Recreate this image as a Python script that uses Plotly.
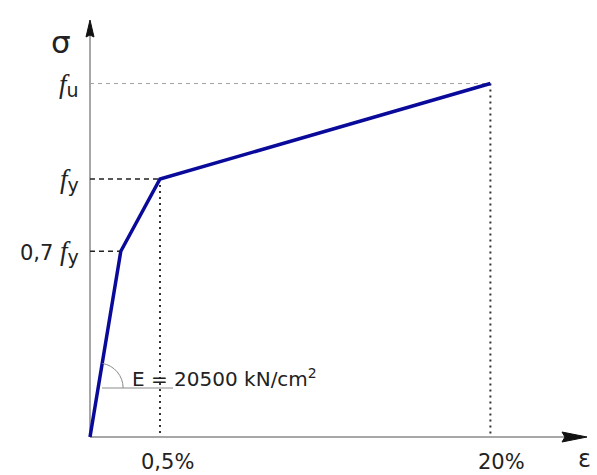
import plotly.graph_objects as go

# Schematic stress-strain diagram (positions in schematic units)
strain_labels = ["0,5%", "20%"]
strain_pos = [0.0, 0.22, 0.5, 2.86]      # schematic x positions of curve points
stress_pos = [0.0, 0.72, 1.0, 1.37]      # schematic y positions (0, 0.7fy, fy, fu)
F = '<i><span style="font-family:Liberation Serif;font-size:27px">f</span></i>'
def SUB(s):
    return '<sub><span style="font-size:19px">' + s + '</span></sub>'
stress_labels = ["0,7 " + F + SUB("y"), F + SUB("y"), F + SUB("u")]
modulus_text = "E = 20500 kN/cm<sup>2</sup>"

FONT = "DejaVu Sans"
BLUE = "#0a0a9a"
TXT = "#222222"

W, H = 597, 475
ox, oy = 90, 437           # origin pixel
sx, sy = 140.0, 258.0      # pixels per unit
x0 = -ox / sx
x1 = x0 + W / sx
y0 = -(H - oy) / sy
y1 = y0 + H / sy

x_end = (587 - ox) / sx
y_end = (oy - 20) / sy

fig = go.Figure()

# axes lines
fig.add_trace(go.Scatter(x=[0, x_end - 0.05], y=[0, 0], mode="lines",
                         line=dict(color="#8a8a8a", width=1.5), hoverinfo="skip"))
fig.add_trace(go.Scatter(x=[0, 0], y=[0, y_end - 0.03], mode="lines",
                         line=dict(color="#8a8a8a", width=1.5), hoverinfo="skip"))

# guide lines
fx_u, fy_u = strain_pos[3], stress_pos[3]
fig.add_trace(go.Scatter(x=[0, fx_u], y=[fy_u, fy_u], mode="lines",
                         line=dict(color="#a0a0a0", width=1, dash="4px,4px"), hoverinfo="skip"))
fig.add_trace(go.Scatter(x=[fx_u, fx_u], y=[fy_u, 0], mode="lines",
                         line=dict(color="#333333", width=2, dash="2px,4px"), hoverinfo="skip"))
fig.add_trace(go.Scatter(x=[0, strain_pos[2]], y=[stress_pos[2], stress_pos[2]], mode="lines",
                         line=dict(color="#222222", width=1.5, dash="5px,4px"), hoverinfo="skip"))
fig.add_trace(go.Scatter(x=[strain_pos[2], strain_pos[2]], y=[stress_pos[2], 0], mode="lines",
                         line=dict(color="#333333", width=2, dash="2px,4px"), hoverinfo="skip"))
fig.add_trace(go.Scatter(x=[0, strain_pos[1]], y=[stress_pos[1], stress_pos[1]], mode="lines",
                         line=dict(color="#222222", width=1.5, dash="5px,4px"), hoverinfo="skip"))

# curve
fig.add_trace(go.Scatter(x=strain_pos, y=stress_pos, mode="lines",
                         line=dict(color=BLUE, width=3.5), hoverinfo="skip"))

# E annotation: horizontal reference line and arc
e_y = (oy - 388) / sy
e_x = strain_pos[1] * (e_y / stress_pos[1])
fig.add_trace(go.Scatter(x=[(102 - ox) / sx, (173 - ox) / sx], y=[e_y, e_y], mode="lines",
                         line=dict(color="#8a8a8a", width=1), hoverinfo="skip"))

shapes = [
    dict(type="path", xref="x", yref="y", xsizemode="pixel", ysizemode="pixel",
         xanchor=e_x, yanchor=e_y,
         path="M 25 0 C 25 12.1 16.3 22.5 4.3 24.6",
         line=dict(color="#8a8a8a", width=1)),
    # arrowheads
    dict(type="path", xref="x", yref="y", xsizemode="pixel", ysizemode="pixel",
         xanchor=x_end, yanchor=0, path="M 0 0 L -25 5 L -22 0 L -25 -5 Z",
         fillcolor="#111111", line=dict(color="#111111", width=1)),
    dict(type="path", xref="x", yref="y", xsizemode="pixel", ysizemode="pixel",
         xanchor=0, yanchor=y_end, path="M 0 0 L -4 -17 L 0 -15 L 4 -17 Z",
         fillcolor="#111111", line=dict(color="#111111", width=1)),
]

ann = []
# stress labels
for lab, yv in zip(stress_labels, stress_pos[1:]):
    ann.append(dict(x=-9 / sx, y=yv, xref="x", yref="y", text=lab, showarrow=False,
                    xanchor="right", yanchor="middle", yshift=-1,
                    font=dict(family=FONT, size=21, color=TXT)))
# strain labels
for lab, xv, shift in zip(strain_labels, [strain_pos[2], strain_pos[3]], [7, 11]):
    ann.append(dict(x=xv, y=0, xref="x", yref="y", text=lab, showarrow=False,
                    xanchor="center", yanchor="middle", xshift=shift, yshift=-25,
                    font=dict(family=FONT, size=21, color=TXT)))
# axis symbols
ann.append(dict(x=(61 - ox) / sx, y=(oy - 42) / sy, xref="x", yref="y", text="σ", showarrow=False,
                xanchor="center", yanchor="middle", font=dict(family=FONT, size=31, color=TXT)))
ann.append(dict(x=(584 - ox) / sx, y=(oy - 459) / sy, xref="x", yref="y", text="ε", showarrow=False,
                xanchor="center", yanchor="middle", font=dict(family=FONT, size=24, color=TXT)))
# modulus
ann.append(dict(x=(130 - ox) / sx, y=(oy - 378) / sy, xref="x", yref="y", text=modulus_text,
                showarrow=False, xanchor="left", yanchor="middle",
                font=dict(family=FONT, size=20, color=TXT)))

fig.update_layout(
    width=W, height=H, margin=dict(l=0, r=0, t=0, b=0),
    paper_bgcolor="white", plot_bgcolor="white", showlegend=False,
    xaxis=dict(range=[x0, x1], visible=False, fixedrange=True),
    yaxis=dict(range=[y0, y1], visible=False, fixedrange=True),
    shapes=shapes, annotations=ann,
)

fig.write_html("out.html", config={"displayModeBar": False},
               post_script="document.body.style.margin='0px';document.body.style.overflow='hidden';")
